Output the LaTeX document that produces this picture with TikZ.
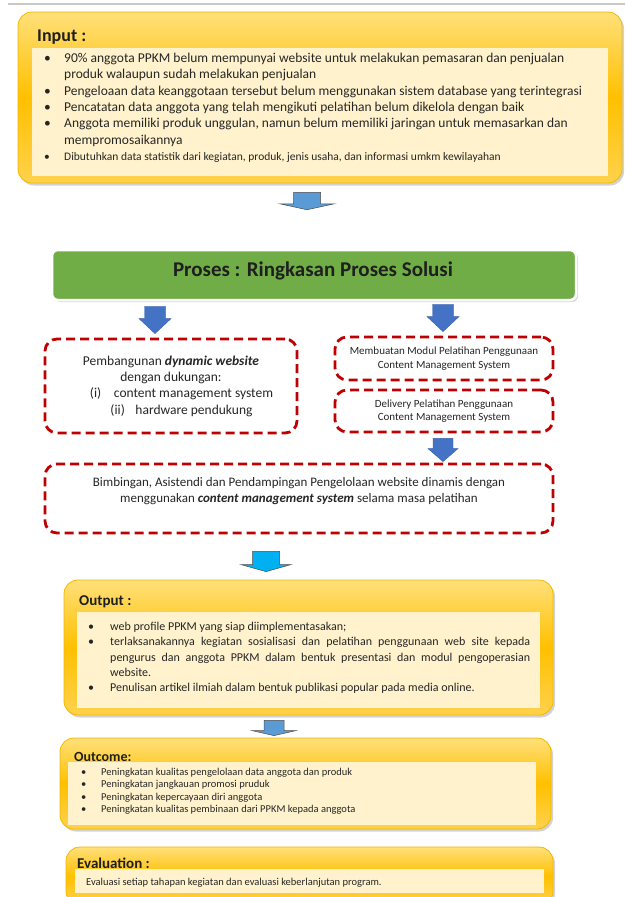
\documentclass[tikz,border=0pt]{standalone}
\usepackage{fontspec}
\setmainfont{Carlito}
\usepackage{tikz}
\usetikzlibrary{positioning, calc, shadows}
\definecolor{boxgold}{HTML}{FFC000}
\definecolor{boxlight}{HTML}{FFE07A}
\definecolor{boxlow}{HTML}{FFD24D}
\definecolor{boxedge}{HTML}{F2B800}
\definecolor{panelcream}{HTML}{FFF2CC}
\definecolor{dashred}{HTML}{C00000}
\definecolor{leafgreen}{HTML}{70AD47}
\definecolor{royalblue}{HTML}{4472C4}
\definecolor{skyblue}{HTML}{5B9BD5}
\definecolor{brightcyan}{HTML}{00B0F0}
\definecolor{inkgray}{HTML}{262626}
\definecolor{rulegray}{HTML}{C8C8C8}

\newcommand{\bul}[1][20pt]{\makebox[#1][l]{\textbullet}}
\newcommand{\blockarrow}[6]{%
  \path[#1] let \p1=(#2), \p2=(#3) in
    (\x1-#4,\y1) -- (\x1+#4,\y1) -- (\x1+#4,\y2+#6) -- (\x1+#5,\y2+#6)
    -- (\x1,\y2) -- (\x1-#5,\y2+#6) -- (\x1-#4,\y2+#6) -- cycle;}

\begin{document}
\begin{tikzpicture}[x=1pt, y=-1pt,
    goldbox/.style={rectangle, rounded corners=14pt, draw=boxedge, line width=0.8pt,
      top color=boxlight, bottom color=boxlow, middle color=boxgold,
      drop shadow={shadow xshift=2pt, shadow yshift=-2.5pt, opacity=0.35}},
    panel/.style={rectangle, fill=panelcream, inner sep=0pt, anchor=north west},
    heading/.style={font=\bfseries\fontsize{18}{21}\selectfont, text=black!88, anchor=base west, inner sep=0pt},
    itemlist/.style={anchor=north west, inner sep=0pt, text=inkgray, align=left},
    dashbox/.style={rectangle, draw=dashred, line width=2.8pt, dash pattern=on 9pt off 5pt,
      rounded corners=12pt, align=center, text=inkgray},
    flatarrow/.style={draw=black!70, line width=0.5pt},
    solidarrow/.style={fill=royalblue, draw=royalblue!85!black, line width=0.4pt}]
\useasboundingbox (0,0) rectangle (625,897);
\fill[white] (0,0) rectangle (625,897);
\draw[rulegray, line width=1.2pt] (8,4) -- (625,4);

% Input
\node[goldbox, minimum width=604pt, minimum height=171pt] (input) at (320,97.5) {};
\node[panel, minimum width=576pt, minimum height=128pt] (inputpanel) at (32,48) {};
\node[heading] (inputtitle) at (37,41.5) {Input :};
\node[itemlist, font=\fontsize{13.5}{16.3}\selectfont] (inputlist) at (44,53) {%
\bul 90\% anggota PPKM belum mempunyai website untuk melakukan pemasaran dan penjualan\\
\hspace*{20pt}produk walaupun sudah melakukan penjualan\\
\bul Pengeloaan data keanggotaan tersebut belum menggunakan sistem database yang terintegrasi\\
\bul Pencatatan data anggota yang telah mengikuti pelatihan belum dikelola dengan baik\\
\bul Anggota memiliki produk unggulan, namun belum memiliki jaringan untuk memasarkan dan\\
\hspace*{20pt}mempromosaikannya\\
{\fontsize{11.5}{16.3}\selectfont\bul Dibutuhkan data statistik dari kegiatan, produk, jenis usaha, dan informasi umkm kewilayahan}};

% Proses
\node[rectangle, rounded corners=6pt, fill=leafgreen, draw=white, line width=2.5pt,
  minimum width=524pt, minimum height=50pt,
  drop shadow={shadow xshift=2pt, shadow yshift=-2pt, opacity=0.3}] (proses) at (314,275) {};
\node[font=\bfseries\fontsize{21}{24}\selectfont, text=black!88] (prosestitle) at (313,271) {Proses : Ringkasan Proses Solusi};

% Solution boxes
\node[dashbox, minimum width=252pt, minimum height=94pt, font=\fontsize{13.5}{16.3}\selectfont] (website) at (171,386) {%
Pembangunan \textbf{\textit{dynamic website}}\\
dengan dukungan:\\
\hspace*{21pt}\makebox[24pt][l]{(i)}content management system\\
\hspace*{21pt}\makebox[25pt][l]{(ii)}hardware pendukung};
\node[dashbox, minimum width=218pt, minimum height=43pt, font=\fontsize{11}{13.5}\selectfont] (modul) at (444,358.5) {%
Membuatan Modul Pelatihan Penggunaan\\ Content Management System};
\node[dashbox, minimum width=218pt, minimum height=42pt, font=\fontsize{11}{13.5}\selectfont] (delivery) at (444,411) {%
Delivery Pelatihan Penggunaan\\ Content Management System};
\node[dashbox, minimum width=508pt, minimum height=69pt] (bimbingan) at (299,498.5) {};
\node[align=center, text=inkgray, font=\fontsize{13}{16}\selectfont] (bimbingantext) at (299,491) {%
Bimbingan, Asistendi dan Pendampingan Pengelolaan website dinamis dengan\\
menggunakan \textbf{\textit{content management system}} selama masa pelatihan};

% Output
\node[goldbox, minimum width=489pt, minimum height=135pt] (output) at (308.5,647.5) {};
\node[panel, minimum width=463pt, minimum height=96pt] (outputpanel) at (77,612) {};
\node[heading, font=\bfseries\fontsize{15}{18}\selectfont] (outputtitle) at (79,605) {Output :};
\node[itemlist, text width=442pt, align=justify, font=\fontsize{12}{15.3}\selectfont] (outputlist) at (88,622) {%
\setlength{\parindent}{0pt}%
\bul[22pt]web profile PPKM yang siap diimplementasakan;\par
\hangindent=22pt \hangafter=1 \bul[22pt]terlaksanakannya kegiatan sosialisasi dan pelatihan penggunaan web site kepada\linebreak pengurus dan anggota PPKM dalam bentuk presentasi dan modul pengoperasian\linebreak website.\par
\bul[22pt]Penulisan artikel ilmiah dalam bentuk publikasi popular pada media online.};

% Outcome
\node[goldbox, minimum width=491pt, minimum height=91pt] (outcome) at (305.5,783.5) {};
\node[panel, minimum width=468pt, minimum height=63pt] (outcomepanel) at (68,762) {};
\node[heading, font=\bfseries\fontsize{14}{17}\selectfont] (outcometitle) at (74,761) {Outcome:};
\node[itemlist, font=\fontsize{10.5}{12.3}\selectfont] (outcomelist) at (81,768) {%
\bul Peningkatan kualitas pengelolaan data anggota dan produk\\
\bul Peningkatan jangkauan promosi pruduk\\
\bul Peningkatan kepercayaan diri anggota\\
\bul Peningkatan kualitas pembinaan dari PPKM kepada anggota};

% Evaluation
\node[goldbox, minimum width=487pt, minimum height=58pt] (evaluation) at (309.5,876) {};
\node[panel, minimum width=469pt, minimum height=24pt] (evaluationpanel) at (75,869) {};
\node[heading, font=\bfseries\fontsize{15}{18}\selectfont] (evaluationtitle) at (77,868) {Evaluation :};
\node[anchor=base west, inner sep=0pt, text=inkgray, font=\fontsize{10.5}{12.3}\selectfont] (evaluationtext) at (86,885) {%
Evaluasi setiap tahapan kegiatan dan evaluasi keberlanjutan program.};

% Arrows
\blockarrow{flatarrow, fill=skyblue}{$(input.south)+(-13,9)$}{$(proses.north)+(-7,-39)$}{13.5pt}{27.5pt}{6pt}
\blockarrow{solidarrow}{$(proses.south)+(-159,5)$}{$(website.north)+(-16,-4)$}{10.5pt}{16pt}{15pt}
\blockarrow{solidarrow}{$(proses.south)+(129,3)$}{$(modul.north)+(-1,-4)$}{10.5pt}{16pt}{15pt}
\blockarrow{solidarrow}{$(delivery.south)+(-1,5)$}{$(bimbingan.north)+(144,-1)$}{10pt}{15pt}{13pt}
\blockarrow{flatarrow, fill=brightcyan}{$(bimbingan.south)+(-33,17)$}{$(output.north)+(-42.5,-8)$}{13.5pt}{25pt}{7pt}
\blockarrow{flatarrow, fill=skyblue}{$(output.south)+(-34.5,5)$}{$(outcome.north)+(-31.5,-2)$}{10pt}{22pt}{5pt}
\end{tikzpicture}
\end{document}
